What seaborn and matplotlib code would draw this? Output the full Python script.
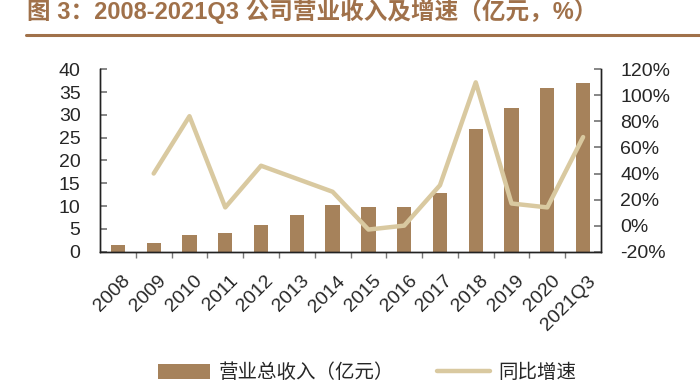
import numpy as np
import pandas as pd
import matplotlib
matplotlib.use("Agg")
import matplotlib.pyplot as plt
import matplotlib.transforms as mtransforms
import seaborn as sns
from matplotlib.patches import Patch
from matplotlib.lines import Line2D
from matplotlib.ticker import FixedLocator, FuncFormatter

categories = ["2008", "2009", "2010", "2011", "2012", "2013", "2014",
              "2015", "2016", "2017", "2018", "2019", "2020", "2021Q3"]
revenue = [1.4, 2.0, 3.6, 4.1, 5.9, 8.0, 10.2, 9.9, 9.8, 12.8, 27.0, 31.5, 35.8, 36.9]
growth = [np.nan, 40, 84, 14, 46, 36, 26, -3, 0, 31, 110, 17, 14, 68]
left_ticks = [0, 5, 10, 15, 20, 25, 30, 35, 40]
right_ticks = [-20, 0, 20, 40, 60, 80, 100, 120]
title_text = "图 3：2008-2021Q3 公司营业收入及增速（亿元，%）"
bar_label = "营业总收入（亿元）"
line_label = "同比增速"

BAR_C = "#A6825B"
LINE_C = "#D9C9A0"
TITLE_C = "#A0714A"

sns.set_theme(style="white")
plt.rcParams["font.family"] = ["Liberation Sans", "Noto Sans CJK SC", "DejaVu Sans"]

df = pd.DataFrame({"cat": categories, "rev": revenue, "growth": growth})
df["pos"] = np.arange(len(df))

fig = plt.figure(figsize=(7, 3.88), dpi=100)
ax = fig.add_axes([100/700, 1-251.7/388, 501/700, 182.4/388])

sns.barplot(data=df, x="cat", y="rev", color=BAR_C, width=0.4, ax=ax,
            saturation=1, edgecolor="none")
ax.set_ylim(0, 40)
ax.set_xlim(-0.5, len(categories) - 0.5)
ax.set_yticks(left_ticks)
ax.set_xlabel("")
ax.set_ylabel("")

ax2 = ax.twinx()
sns.lineplot(data=df, x="pos", y="growth", color=LINE_C, linewidth=3.2, ax=ax2)
ax2.set_ylim(-20, 120)
ax2.set_yticks(right_ticks)
ax2.yaxis.set_major_formatter(FuncFormatter(lambda v, p: f"{int(v)}%"))
ax2.set_xlim(-0.5, len(categories) - 0.5)
ax2.set_xlabel("")
ax2.set_ylabel("")

for a in (ax, ax2):
    a.spines["top"].set_visible(False)
    for s in ("left", "right", "bottom"):
        a.spines[s].set_color("#222222")
        a.spines[s].set_linewidth(1.0)

ax.tick_params(axis="y", direction="in", length=5, color="#777777",
               labelsize=14, pad=14, left=True)
ax2.tick_params(axis="y", direction="in", length=5, color="#777777",
                labelsize=14, pad=14, right=True)
ax.set_xticks(range(len(categories)))
ax.set_xticklabels(categories, rotation=45, ha="right", rotation_mode="anchor")
ax.tick_params(axis="x", length=0, labelsize=14, pad=15)
shift = mtransforms.ScaledTranslation(4/100, 0, fig.dpi_scale_trans)
for lbl in ax.get_xticklabels():
    lbl.set_transform(lbl.get_transform() + shift)
ax.xaxis.set_minor_locator(FixedLocator(np.arange(0.5, len(categories) - 1, 1)))
ax.tick_params(axis="x", which="minor", direction="out", length=4, color="#777777", bottom=True)

fig.text(27/700, 1-11.5/388, title_text, fontsize=17, fontweight="bold",
         color=TITLE_C, va="center", ha="left")
fig.add_artist(Line2D([26/700, 1.0], [1-34.5/388, 1-34.5/388], color=TITLE_C, linewidth=2.2))

handles = [Patch(facecolor=BAR_C, edgecolor="none", label=bar_label),
           Line2D([0], [0], color=LINE_C, linewidth=3.2, label=line_label)]
fig.legend(handles=handles, loc="center", bbox_to_anchor=(367/700, 1-373/388),
           ncol=2, frameon=False, fontsize=14, handlelength=2.7,
           columnspacing=2.2, handletextpad=0.45, handleheight=0.8)

fig.savefig("out.png", dpi=100)
